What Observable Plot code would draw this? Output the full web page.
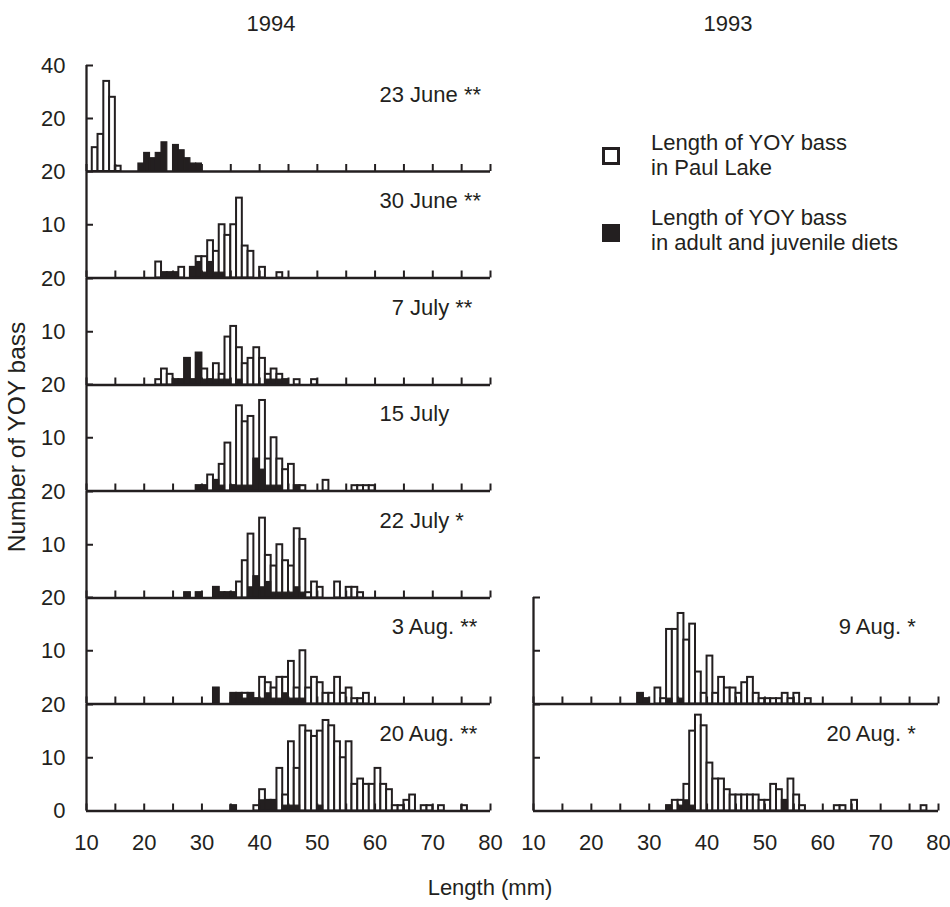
<!DOCTYPE html>
<html><head><meta charset="utf-8">
<script src="https://cdn.jsdelivr.net/npm/d3@7"></script>
<script src="https://cdn.jsdelivr.net/npm/@observablehq/plot@0.6"></script>
<style>
body{margin:0;background:#fff;font-family:"Liberation Sans",Arial,Helvetica,sans-serif;color:#231f20}
#wrap{position:relative;width:950px;height:907px;overflow:hidden}
.abs{position:absolute;white-space:nowrap;font-size:22px;line-height:25px}
</style></head><body><div id="wrap"></div><script>
// ---- data: [length (mm), number of YOY bass] ----
const jun23Lake = [[11,9],[12,14],[13,34],[14,28],[15,2]];
const jun23Diet = [[19,3],[20,7],[21,5],[22,7],[23,11],[25,10],[26,8],[27,5],[28,3],[29,3]];
const jun30Lake = [[22,3],[23,1],[24,1],[25,1],[26,2],[28,2],[29,4],[30,4],[31,7],[32,5],[33,10],[34,8],[35,10],[36,15],[37,6],[38,5],[40,2],[43,1]];
const jun30Diet = [[23,1],[24,1],[25,1],[28,2],[29,3],[30,1],[31,3],[32,1],[33,1]];
const jul7Lake = [[22,1],[23,3],[24,2],[25,1],[26,1],[27,5],[28,1],[29,6],[30,3],[31,1],[32,4],[33,2],[34,9],[35,11],[36,7],[37,4],[38,5],[39,7],[40,5],[41,2],[42,3],[43,2],[44,1],[46,1],[49,1]];
const jul7Diet = [[25,1],[26,1],[27,5],[28,1],[29,6],[30,1],[31,1],[32,1],[33,1],[34,1],[36,1],[41,1],[42,1],[43,1],[44,1]];
const jul15Lake = [[29,1],[30,1],[31,3],[32,2],[33,5],[34,9],[35,1],[36,16],[37,13],[38,14],[39,6],[40,17],[41,6],[42,10],[43,6],[44,4],[45,5],[46,1],[47,1],[51,2],[56,1],[57,1],[58,1],[59,1]];
const jul15Diet = [[29,1],[30,1],[32,2],[33,1],[35,1],[36,1],[37,1],[38,1],[39,6],[40,4],[41,1],[42,1],[43,1],[46,1]];
const jul22Lake = [[27,1],[29,1],[32,2],[33,1],[34,1],[35,1],[36,3],[37,7],[38,12],[39,4],[40,15],[41,8],[42,6],[43,10],[44,7],[45,6],[46,13],[47,11],[48,1],[49,3],[50,2],[53,3],[55,2],[56,2],[57,1]];
const jul22Diet = [[27,1],[29,1],[32,2],[33,1],[34,1],[35,1],[38,2],[39,4],[40,2],[41,3],[42,1],[43,1],[44,1],[45,1],[46,2],[47,1]];
const aug3Lake = [[32,3],[35,2],[36,2],[37,2],[38,2],[39,1],[40,5],[41,4],[42,3],[43,5],[44,5],[45,8],[46,3],[47,10],[48,3],[49,5],[50,4],[51,2],[52,2],[53,5],[54,2],[55,3],[56,1],[57,1],[58,2]];
const aug3Diet = [[32,3],[35,2],[36,2],[37,1],[38,2],[39,1],[40,1],[41,2],[42,1],[43,1],[44,2],[45,1],[46,1],[47,1]];
const aug20Lake94 = [[35,1],[39,1],[40,4],[41,2],[42,2],[43,8],[44,3],[45,13],[46,8],[47,16],[48,15],[49,14],[50,15],[51,17],[52,16],[53,13],[54,10],[55,13],[56,5],[57,6],[58,5],[59,5],[60,8],[61,5],[62,4],[63,1],[64,1],[65,2],[66,3],[68,1],[69,1],[71,1],[75,1]];
const aug20Diet94 = [[35,1],[40,2],[41,2],[42,2],[44,1],[45,1],[46,1],[50,1]];
const aug9Lake93 = [[28,2],[29,1],[31,3],[32,1],[33,14],[34,14],[35,17],[36,12],[37,15],[38,6],[39,2],[40,9],[41,2],[42,5],[43,3],[44,3],[45,2],[46,4],[47,5],[48,2],[49,1],[50,1],[51,1],[52,1],[53,2],[54,1],[55,2],[57,1]];
const aug9Diet93 = [[28,2],[29,1],[33,1],[35,1]];
const aug20Lake93 = [[33,1],[34,2],[35,2],[36,5],[37,15],[38,18],[39,16],[40,9],[41,6],[42,6],[43,4],[44,3],[45,3],[46,3],[47,3],[48,3],[49,2],[50,2],[51,5],[52,4],[53,2],[54,6],[55,3],[56,1],[62,1],[63,1],[65,2],[77,1]];
const aug20Diet93 = [[33,1],[35,1],[36,2],[37,1],[53,2]];

const panelLabels94 = ["23 June **","30 June **","7 July **","15 July","22 July *","3 Aug. **","20 Aug. **"];
const panelLabels93 = ["9 Aug. *","20 Aug. *"];
const lake94 = [jun23Lake, jun30Lake, jul7Lake, jul15Lake, jul22Lake, aug3Lake, aug20Lake94];
const diet94 = [jun23Diet, jun30Diet, jul7Diet, jul15Diet, jul22Diet, aug3Diet, aug20Diet94];
const lake93 = [aug9Lake93, aug20Lake93];
const diet93 = [aug9Diet93, aug20Diet93];
const xTickValues = [10,15,20,25,30,35,40,45,50,55,60,65,70,75,80];
const yTicksTop = [20,40];
const yTicksRow = [10,20];
const yTicksBottom = [0,10,20];
const yearTitles = ["1994","1993"];
const xTitle = "Length (mm)";
const yTitle = "Number of YOY bass";
const legendLabels = [["Length of YOY bass","in Paul Lake"],["Length of YOY bass","in adult and juvenile diets"]];

// ---- layout ----
const ink = "#231f20";
const FONT = '"Liberation Sans", Arial, Helvetica, sans-serif';
const FS = 22;
const TICK = 7;
const wrap = document.getElementById("wrap");
const cols = [{left:0,width:505,x0:86,x1:490},{left:500,width:450,x0:533,x1:938}];
const rowTop = [65,171,277.5,384,490.5,597,703.5];
const rowBot = [171,277.5,384,490.5,597,703.5,810];

function panel({col,row,lake,diet,label,yMax,yTicks,showY,showX}){
  const g = cols[col];
  const top = rowTop[row], bot = rowBot[row];
  const mT = 20, mB = showX ? 50 : 12;
  const singleDigit = /^\d\s/.test(label);
  const marks = [
    Plot.rect(lake,{x1:d=>d[0],x2:d=>d[0]+1,y1:0,y2:d=>d[1],fill:"white",stroke:ink,strokeWidth:2}),
    Plot.rect(diet,{x1:d=>d[0],x2:d=>d[0]+1,y1:0,y2:d=>d[1],fill:ink,stroke:ink,strokeWidth:1.2}),
    Plot.ruleY([0],{stroke:ink,strokeWidth:2.3}),
    Plot.ruleX([10],{stroke:ink,strokeWidth:2.3}),
    // inward tick marks (shifted back across the axis line)
    Plot.axisX({ticks:xTickValues,tickSize:TICK,dy:-TICK,strokeWidth:2,stroke:ink,tickFormat:()=>""}),
    Plot.axisY({ticks:yTicks,tickSize:TICK,dx:TICK,strokeWidth:2,stroke:ink,tickFormat:()=>""}),
    Plot.text([label],{frameAnchor:"top-left",dx:293+(singleDigit?12.2:0),dy:21,textAnchor:"start",fontSize:FS,fill:ink})
  ];
  if(showX) marks.push(Plot.axisX({ticks:xTickValues,tickSize:0,tickPadding:23,fill:ink,fontSize:FS,
        tickFormat:d=> d%10===0 ? String(d) : ""}));
  if(showY) marks.push(Plot.axisY({ticks:yTicks,tickSize:0,tickPadding:21,fill:ink,fontSize:FS}));
  const chart = Plot.plot({
    width: g.width, height: (bot-top)+mT+mB,
    marginLeft: g.x0-g.left, marginRight: g.left+g.width-g.x1, marginTop: mT, marginBottom: mB,
    x:{domain:[10,80]}, y:{domain:[0,yMax]},
    style:{background:"transparent",overflow:"visible",fontFamily:FONT,fontSize:FS+"px",color:ink},
    marks
  });
  chart.style.position="absolute";
  chart.style.left=g.left+"px";
  chart.style.top=(top-mT)+"px";
  wrap.appendChild(chart);
}

for(let r=0;r<7;r++){
  panel({col:0,row:r,lake:lake94[r],diet:diet94[r],label:panelLabels94[r],
    yMax:r===0?40:20, yTicks:r===0?yTicksTop:(r===6?yTicksBottom:yTicksRow), showY:true, showX:r===6});
}
for(let k=0;k<2;k++){
  panel({col:1,row:5+k,lake:lake93[k],diet:diet93[k],label:panelLabels93[k],
    yMax:20, yTicks:yTicksRow, showY:false, showX:k===1});
}

function addText(txt,left,top,width,align,extra){
  const d=document.createElement("div");
  d.className="abs"; d.textContent=txt;
  d.style.left=left+"px"; d.style.top=top+"px";
  if(width!=null){d.style.width=width+"px";d.style.textAlign=align;}
  if(extra) Object.assign(d.style,extra);
  wrap.appendChild(d); return d;
}
// titles
addText(yearTitles[0],171,11,200,"center");
addText(yearTitles[1],628,11,200,"center");
addText(xTitle,340,875,300,"center");
addText(yTitle,17-160,437-14,320,"center",{transform:"rotate(-90deg)",transformOrigin:"50% 50%",fontSize:"24.5px",lineHeight:"28px"});
// legend
const sq1=document.createElement("div");
Object.assign(sq1.style,{position:"absolute",left:"602px",top:"147px",width:"18px",height:"18px",boxSizing:"border-box",border:"3.5px solid "+ink,background:"#fff"});
wrap.appendChild(sq1);
const sq2=document.createElement("div");
Object.assign(sq2.style,{position:"absolute",left:"602px",top:"224px",width:"18px",height:"18px",background:ink});
wrap.appendChild(sq2);
addText(legendLabels[0][0],651,130);
addText(legendLabels[0][1],651,155);
addText(legendLabels[1][0],651,205);
addText(legendLabels[1][1],651,230);
</script></body></html>
